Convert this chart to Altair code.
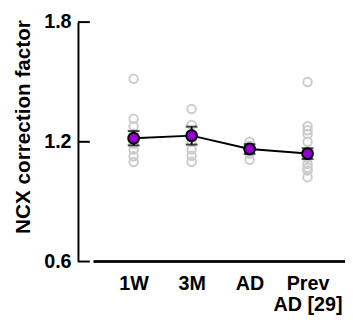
import altair as alt
import pandas as pd

groups = ["1W", "3M", "AD", "Prev|AD [29]"]

ind_1w = [1.516, 1.316, 1.278, 1.24, 1.19, 1.161, 1.128, 1.099]
ind_3m = [1.364, 1.284, 1.20, 1.162, 1.13, 1.10]
ind_ad = [1.20, 1.18, 1.14, 1.11]
ind_prev = [1.50, 1.278, 1.258, 1.239, 1.20, 1.12, 1.089, 1.07, 1.056, 1.023]

means = [1.218, 1.231, 1.164, 1.141]
sems = [0.036, 0.045, 0.024, 0.027]

y_ticks = [0.6, 1.2, 1.8]

rows = []
for g, vals in zip(groups, [ind_1w, ind_3m, ind_ad, ind_prev]):
    for v in vals:
        rows.append({"group": g, "value": v})
ind_df = pd.DataFrame(rows)

mean_df = pd.DataFrame({
    "group": groups,
    "mean": means,
    "lo": [m - s for m, s in zip(means, sems)],
    "hi": [m + s for m, s in zip(means, sems)],
})
tick_df = pd.DataFrame({"t": y_ticks})

FONT = "Liberation Sans"
W, H = 255, 243
OFF = 16

xscale = alt.Scale(type="point", domain=groups, range=[40.5, 217], padding=0)
yscale = alt.Scale(domain=[0.6, 1.8], nice=False, zero=False)

xaxis = alt.Axis(title=None, domain=False, ticks=False, labelAngle=0,
                 labelFont=FONT, labelFontSize=20, labelFontWeight="bold",
                 labelColor="black", labelPadding=12, labelLineHeight=22,
                 labelExpr="split(datum.label, '|')")
yaxis = alt.Axis(values=y_ticks, title="NCX correction factor", offset=OFF,
                 domainColor="black", domainWidth=2, ticks=False, grid=False,
                 labelFont=FONT, labelFontSize=20, labelFontWeight="bold",
                 labelColor="black", labelPadding=7, format=".1f",
                 titleFont=FONT, titleFontSize=21, titleFontWeight="bold",
                 titleColor="black", titlePadding=10, titleY=106)

base_x = alt.X("group:N", scale=xscale, axis=xaxis, sort=groups)

pts = alt.Chart(ind_df).mark_point(shape="circle", filled=False, size=75,
                                   strokeWidth=2, color="#cccccc", opacity=1).encode(
    x=base_x,
    y=alt.Y("value:Q", scale=yscale, axis=yaxis),
)

line = alt.Chart(mean_df).mark_line(color="black", strokeWidth=2).encode(
    x=alt.X("group:N", scale=xscale, sort=groups),
    y=alt.Y("mean:Q", scale=yscale),
)

err = alt.Chart(mean_df).mark_rule(color="black", strokeWidth=2).encode(
    x=alt.X("group:N", scale=xscale, sort=groups),
    y=alt.Y("lo:Q", scale=yscale),
    y2="hi:Q",
)
cap_lo = alt.Chart(mean_df).mark_tick(color="black", thickness=2, size=12,
                                      orient="horizontal").encode(
    x=alt.X("group:N", scale=xscale, sort=groups),
    y=alt.Y("lo:Q", scale=yscale),
)
cap_hi = alt.Chart(mean_df).mark_tick(color="black", thickness=2, size=12,
                                      orient="horizontal").encode(
    x=alt.X("group:N", scale=xscale, sort=groups),
    y=alt.Y("hi:Q", scale=yscale),
)

mpts = alt.Chart(mean_df).mark_point(shape="circle", filled=True, size=120,
                                     fill="#9400D3", stroke="black",
                                     strokeWidth=2, opacity=1).encode(
    x=alt.X("group:N", scale=xscale, sort=groups),
    y=alt.Y("mean:Q", scale=yscale),
)

yticks = alt.Chart(tick_df).mark_rule(color="black", strokeWidth=2).encode(
    y=alt.Y("t:Q", scale=yscale),
    x=alt.value(-OFF),
    x2=alt.value(-4),
)

xline = alt.Chart(tick_df).mark_rule(color="black", strokeWidth=2).encode(
    x=alt.value(0),
    x2=alt.value(W),
    y=alt.value(H),
)

chart = alt.layer(pts, line, err, cap_lo, cap_hi, mpts, yticks, xline).properties(
    width=W, height=H,
    autosize=alt.AutoSizeParams(type="none"),
    padding={"left": 87, "top": 12, "right": 0, "bottom": 55},
).configure_view(stroke=None)

chart.save("out.html", embed_options={"renderer": "svg", "actions": False})
